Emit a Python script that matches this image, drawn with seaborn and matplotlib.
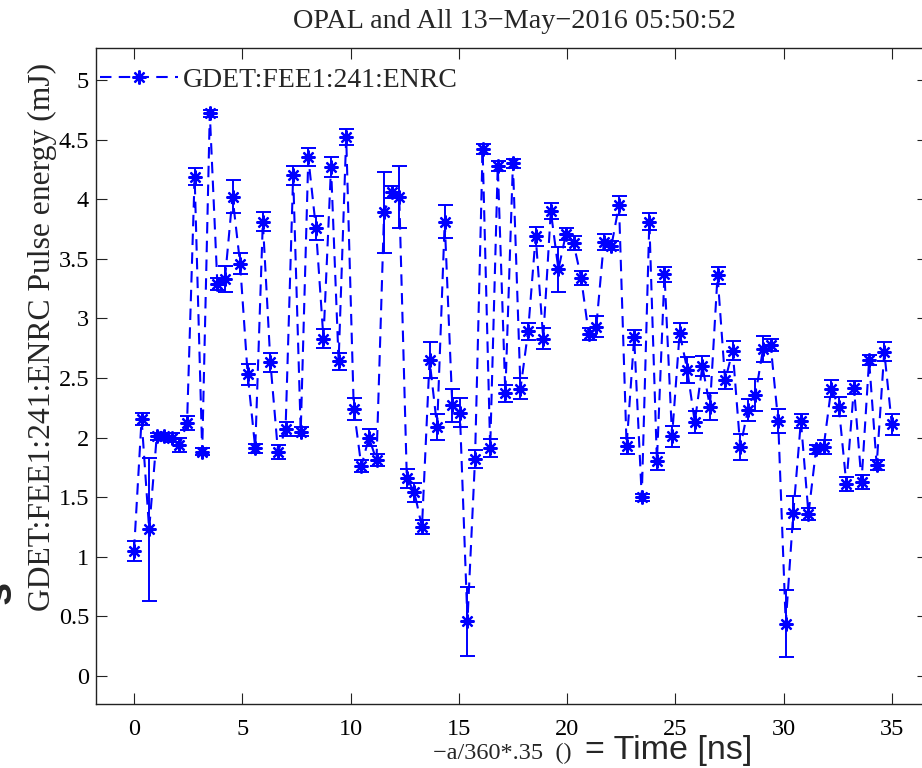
import numpy as np
import pandas as pd
import matplotlib
matplotlib.use("Agg")
import matplotlib.pyplot as plt
import seaborn as sns

# Scan step in ns (delay = -a/360*.35)
step_ns = 0.35
n_steps = 101
time_ns = np.arange(n_steps) * step_ns

pulse_energy = [
    1.05, 2.155, 1.23, 2.01, 2.01, 2.00, 1.94, 2.12, 4.19, 1.88,
    4.72, 3.29, 3.33, 4.02, 3.46, 2.53, 1.91, 3.81, 2.63, 1.88,
    2.07, 4.20, 2.05, 4.35, 3.76, 2.83, 4.27, 2.64, 4.52, 2.24,
    1.76, 2.00, 1.81, 3.89, 4.06, 4.02, 1.66, 1.54, 1.25, 2.65,
    2.09, 3.81, 2.27, 2.21, 0.46, 1.82, 4.42, 1.91, 4.28, 2.37,
    4.30, 2.41, 2.89, 3.69, 2.83, 3.90, 3.41, 3.71, 3.63, 3.34,
    2.87, 2.93, 3.64, 3.61, 3.95, 1.93, 2.84, 1.50, 3.81, 1.80,
    3.37, 2.01, 2.88, 2.57, 2.13, 2.60, 2.26, 3.36, 2.48, 2.73,
    1.92, 2.23, 2.36, 2.74, 2.78, 2.14, 0.44, 1.37, 2.14, 1.36,
    1.90, 1.92, 2.41, 2.26, 1.61, 2.42, 1.63, 2.65, 1.77, 2.72,
    2.11,
]

pulse_err = [
    0.085, 0.05, 0.60, 0.03, 0.03, 0.04, 0.06, 0.06, 0.07, 0.03,
    0.03, 0.05, 0.11, 0.14, 0.09, 0.09, 0.04, 0.08, 0.08, 0.06,
    0.06, 0.08, 0.04, 0.075, 0.10, 0.08, 0.08, 0.07, 0.065, 0.09,
    0.05, 0.07, 0.05, 0.34, 0.05, 0.26, 0.08, 0.08, 0.06, 0.15,
    0.11, 0.14, 0.14, 0.12, 0.29, 0.075, 0.04, 0.075, 0.04, 0.07,
    0.04, 0.09, 0.07, 0.08, 0.085, 0.07, 0.19, 0.05, 0.06, 0.06,
    0.05, 0.09, 0.065, 0.04, 0.08, 0.07, 0.06, 0.03, 0.07, 0.07,
    0.065, 0.09, 0.08, 0.11, 0.095, 0.085, 0.11, 0.07, 0.07, 0.08,
    0.11, 0.09, 0.135, 0.11, 0.05, 0.10, 0.28, 0.14, 0.06, 0.05,
    0.04, 0.06, 0.07, 0.08, 0.06, 0.055, 0.06, 0.04, 0.045, 0.08,
    0.09,
]

series_label = "GDET:FEE1:241:ENRC"
title_text = "OPAL and All 13\u2212May\u22122016 05:50:52"
ylabel_text = "GDET:FEE1:241:ENRC Pulse energy (mJ)"
xlabel_text = "\u2212a/360*.35  ()"
xlabel_extra = "= Time [ns]"
x_ticks = [0, 5, 10, 15, 20, 25, 30, 35]
y_ticks = [0, 0.5, 1, 1.5, 2, 2.5, 3, 3.5, 4, 4.5, 5]

df = pd.DataFrame({"time": time_ns, "energy": pulse_energy, "err": pulse_err})

sns.set_theme(style="ticks")
serif = ["Liberation Serif", "DejaVu Serif"]
plt.rcParams["font.family"] = serif
plt.rcParams["axes.unicode_minus"] = True

W, H = 922, 768
fig = plt.figure(figsize=(W / 100, H / 100), dpi=100, facecolor="white")
left, right, top, bottom = 96, 928, 48, 704
ax = fig.add_axes([left / W, 1 - bottom / H, (right - left) / W, (bottom - top) / H])
ax.set_facecolor("white")

blue = (0, 0, 1)
ax.errorbar(df["time"], df["energy"], yerr=df["err"], fmt="none",
            ecolor=blue, elinewidth=1.4, capsize=5.4, capthick=1.4, zorder=2)
sns.lineplot(data=df, x="time", y="energy", ax=ax, sort=False,
             color=blue, linestyle=(0, (5.5, 3.5)), linewidth=1.5,
             marker=(8, 2, 0), markersize=10, markeredgewidth=1.6,
             markeredgecolor=blue, label=series_label, zorder=3)

ax.set_xlim(-1.755, 36.67)
ax.set_ylim(-0.235, 5.268)
ax.set_xticks(x_ticks)
ax.set_yticks(y_ticks)
ax.set_yticklabels([f"{v:g}" for v in y_ticks])
ax.tick_params(direction="in", length=8, width=0.8, colors="#222222",
               labelsize=17.5, top=True, right=True)
ax.tick_params(axis="x", pad=11)
ax.tick_params(axis="y", pad=5)
for lab in ax.get_xticklabels() + ax.get_yticklabels():
    lab.set_color("black")
for sp in ax.spines.values():
    sp.set_visible(True)
    sp.set_linewidth(1.0)
    sp.set_color("#222222")

ax.set_xlabel(xlabel_text, fontsize=17.5, va="center", ha="center")
ax.xaxis.set_label_coords((502 - left) / (right - left), (bottom - 753) / (bottom - top))
fig.text(585 / W, 1 - 750 / H, xlabel_extra, fontsize=24.5, va="center", ha="left",
         family=["Liberation Sans", "DejaVu Sans"])

ax.set_ylabel(ylabel_text, fontsize=22.8, va="center", ha="center")
ax.yaxis.set_label_coords((42 - left) / (right - left), (bottom - 337) / (bottom - top))

fig.text(514 / W, 1 - 22 / H, title_text, fontsize=20.3, ha="center", va="center")

leg = ax.legend(loc="center left", frameon=False, fontsize=20,
                bbox_to_anchor=((100 - left) / (right - left), (bottom - 80) / (bottom - top)),
                handlelength=2.8, handletextpad=0.18, borderaxespad=0, borderpad=0)

fig.text(-0.022, 1 - 592 / H, "s", fontsize=30, fontweight="bold", rotation=90,
         ha="left", va="center", family=["Liberation Sans", "DejaVu Sans"])

fig.savefig("out.png", dpi=100, facecolor="white")
